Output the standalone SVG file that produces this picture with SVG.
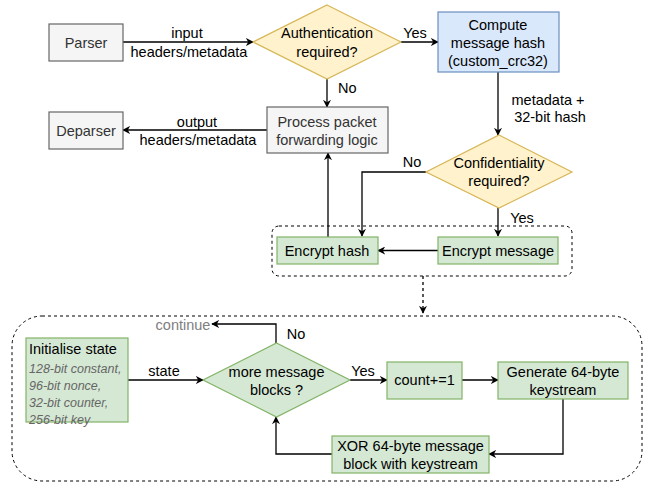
<svg xmlns="http://www.w3.org/2000/svg" width="654" height="482" viewBox="0 0 654 482">
<defs>
<marker id="arr" viewBox="0 0 10 10" refX="9" refY="5" markerWidth="8" markerHeight="8" markerUnits="userSpaceOnUse" orient="auto">
<path d="M0,0 L10,5 L0,10 L3,5 z" fill="#000"/>
</marker>
</defs>
<style>
text{font-family:"Liberation Sans",Arial,sans-serif;font-size:14.5px;fill:#000;text-anchor:middle}
.gray{fill:#f5f5f5;stroke:#666666;stroke-width:1.2}
.gt{fill:#333333}
.yel{fill:#fff2cc;stroke:#d6b656;stroke-width:1.2}
.grn{fill:#d5e8d4;stroke:#82b366;stroke-width:1.2}
.blu{fill:#dae8fc;stroke:#6c8ebf;stroke-width:1.2}
.ln{fill:none;stroke:#000;stroke-width:1.3;marker-end:url(#arr)}
.dash{fill:none;stroke:#000;stroke-width:1;stroke-dasharray:3 3}
.it{font-style:italic;font-size:12.5px;fill:#666666;text-anchor:start}
</style>
<g id="groups">
<rect class="dash" x="272" y="226" width="300" height="50" rx="7"/>
<rect class="dash" x="12" y="316" width="630" height="165" rx="30"/>
</g>
<g id="connectors">
<path class="ln" d="M123,42 H253"/>
<path class="ln" d="M401,42 H438"/>
<path class="ln" d="M327,79 V107"/>
<path class="ln" d="M267,130 H123"/>
<path class="ln" d="M498,72 V135"/>
<path class="ln" d="M426,172 H362 V236"/>
<path class="ln" d="M498,208 V236"/>
<path class="ln" d="M438,250.5 H378"/>
<path class="ln" d="M328,237 V153"/>
<path class="ln" d="M423,276 V313" stroke-dasharray="3 3"/>
<path class="ln" d="M128,380 H203"/>
<path class="ln" d="M276,343 V324 H212"/>
<path class="ln" d="M350,380 H387"/>
<path class="ln" d="M462,380 H498"/>
<path class="ln" d="M563,399 V454 H489"/>
<path class="ln" d="M332,454 H276 V417"/>
</g>
<g id="labels">
<text x="187" y="38">input</text>
<text x="189" y="57">headers/metadata</text>
<text x="415" y="38">Yes</text>
<text x="338" y="93" text-anchor="start" style="text-anchor:start">No</text>
<text x="197" y="127">output</text>
<text x="198" y="145">headers/metadata</text>
<text x="548" y="105">metadata +</text>
<text x="550" y="122">32-bit hash</text>
<text x="412" y="167">No</text>
<text x="522" y="223">Yes</text>
<text x="164" y="376">state</text>
<text x="296" y="339">No</text>
<text x="183" y="330" style="fill:#808080">continue</text>
<text x="363" y="376">Yes</text>
</g>
<g id="parser"><rect class="gray" x="49" y="24" width="74" height="37"/><text class="gt" x="86" y="48">Parser</text></g>
<g id="deparser"><rect class="gray" x="49" y="112" width="74" height="37"/><text class="gt" x="86" y="136">Deparser</text></g>
<g id="auth"><polygon class="yel" points="327,5 401,42 327,79 253,42"/><text x="327" y="38">Authentication</text><text x="327" y="57">required?</text></g>
<g id="hash"><rect class="blu" x="438" y="12" width="121" height="60"/><text x="498" y="30">Compute</text><text x="498" y="48">message hash</text><text x="498" y="66">(custom_crc32)</text></g>
<g id="process"><rect class="gray" x="267" y="107" width="121" height="46"/><text class="gt" x="327" y="127">Process packet</text><text class="gt" x="327" y="145">forwarding logic</text></g>
<g id="conf"><polygon class="yel" points="499,135 572,172 499,208 426,172"/><text x="499" y="168">Confidentiality</text><text x="499" y="186">required?</text></g>
<g id="enchash"><rect class="grn" x="277" y="237" width="101" height="27"/><text x="327" y="256">Encrypt hash</text></g>
<g id="encmsg"><rect class="grn" x="438" y="237" width="120" height="27"/><text x="498" y="256">Encrypt message</text></g>
<g id="init"><rect class="grn" x="26" y="338" width="102" height="84"/><text x="29" y="354" style="text-anchor:start">Initialise state</text><text class="it" x="29" y="373">128-bit constant,</text><text class="it" x="29" y="390">96-bit nonce,</text><text class="it" x="29" y="407">32-bit counter,</text><text class="it" x="29" y="424">256-bit key</text></g>
<g id="more"><polygon class="grn" points="276.5,343 350,380 276.5,417 203,380"/><text x="276.5" y="377">more message</text><text x="276.5" y="395">blocks ?</text></g>
<g id="count"><rect class="grn" x="387" y="362" width="75" height="37"/><text x="424.5" y="385">count+=1</text></g>
<g id="gen"><rect class="grn" x="498" y="362" width="130" height="37"/><text x="563" y="377">Generate 64-byte</text><text x="563" y="395">keystream</text></g>
<g id="xor"><rect class="grn" x="332" y="436" width="157" height="37"/><text x="410.5" y="451">XOR 64-byte message</text><text x="410.5" y="469">block with keystream</text></g>
</svg>
